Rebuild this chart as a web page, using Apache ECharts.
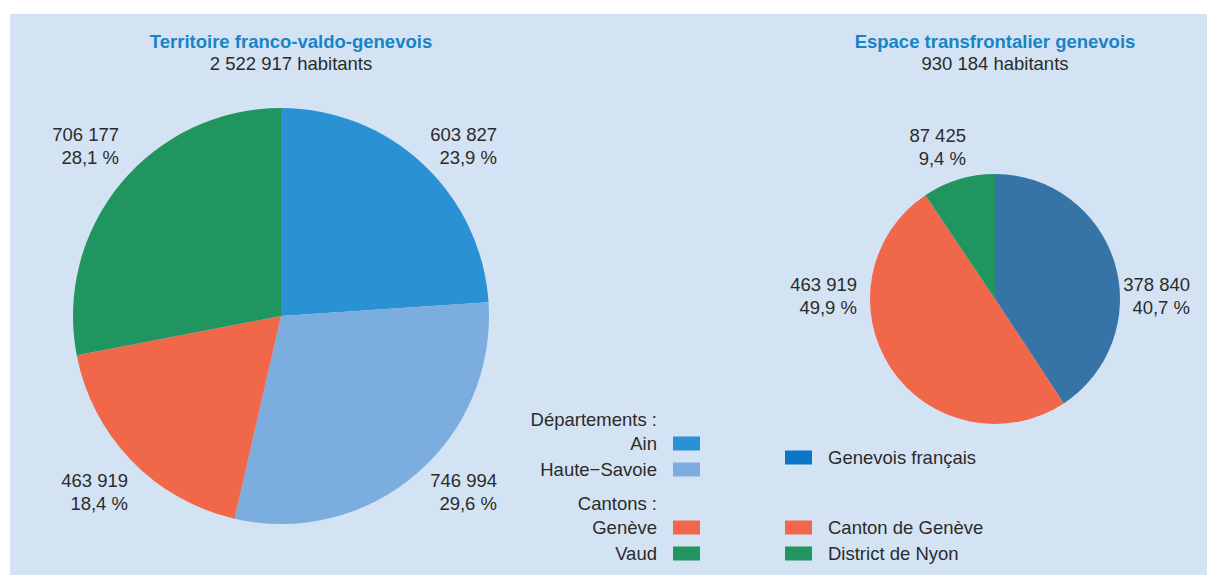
<!DOCTYPE html>
<html><head><meta charset="utf-8">
<script src="https://cdn.jsdelivr.net/npm/echarts@6/dist/echarts.min.js"></script>
<style>html,body{margin:0;padding:0;background:#fff}#c{width:1207px;height:575px}</style>
</head><body><div id="c"></div>
<script>
// ---- data ----
const leftTitle = 'Territoire franco-valdo-genevois';
const leftSubtitle = '2 522 917 habitants';
const rightTitle = 'Espace transfrontalier genevois';
const rightSubtitle = '930 184 habitants';
const leftNames = ['Ain', 'Haute−Savoie', 'Genève', 'Vaud'];
const leftValues = [603827, 746994, 463919, 706177];
const leftPercents = ['23,9', '29,6', '18,4', '28,1'];
const rightNames = ['Genevois français', 'Canton de Genève', 'District de Nyon'];
const rightValues = [378840, 463919, 87425];
const rightPercents = ['40,7', '49,9', '9,4'];
const legendHeaders = ['Départements :', 'Cantons :'];

// ---- layout / style ----
const FONT = '"Liberation Sans", Arial, Helvetica, sans-serif';
const FS = 18.5;
const TXT = '#2b2b2b';
const BLUE = '#1884c7';
const BG = '#d4e3f3';
const leftColors = ['#2a92d4', '#7badde', '#f0674a', '#20955f'];
const rightColors = ['#3674a8', '#f0674a', '#20955f'];
const gfLegendColor = '#0a78c6';
const leftLabelAnchors = [[497, 146], [497, 492], [128, 492], [119, 146]];
const rightLabelAnchors = [[1190, 296], [857, 296], [966, 147]];

const fmt = v => String(v).replace(/\B(?=(\d{3})+(?!\d))/g, ' ');

function pieSeries(names, values, percents, colors, center, radius, anchors) {
  return {
    type: 'pie',
    center: center,
    radius: radius,
    startAngle: 90,
    clockwise: true,
    avoidLabelOverlap: false,
    silent: true,
    emphasis: { disabled: true },
    data: names.map((n, i) => ({ name: n, value: values[i], itemStyle: { color: colors[i] } })),
    itemStyle: { borderWidth: 0 },
    label: {
      show: true,
      position: 'outside',
      formatter: p => fmt(p.value) + '\n' + percents[p.dataIndex] + ' %',
      fontSize: FS,
      fontFamily: FONT,
      color: TXT,
      lineHeight: 23
    },
    labelLine: { show: false },
    labelLayout: p => ({
      x: anchors[p.dataIndex][0],
      y: anchors[p.dataIndex][1],
      align: 'right',
      verticalAlign: 'middle'
    })
  };
}

const legendBase = {
  orient: 'vertical',
  itemWidth: 27,
  itemHeight: 14,
  itemGap: 7,
  padding: 0,
  icon: 'rect',
  selectedMode: false
};
function legendText(pad) {
  return { fontSize: FS, fontFamily: FONT, color: TXT, lineHeight: 14, padding: pad };
}

const chart = echarts.init(document.getElementById('c'), null, { renderer: 'svg' });
chart.setOption({
  animation: false,
  backgroundColor: '#ffffff',
  graphic: { elements: [
    { type: 'rect', silent: true, z: -100, shape: { x: 10, y: 14, width: 1197, height: 561 }, style: { fill: BG } },
    { type: 'text', silent: true, x: 291, y: 41, style: { text: leftTitle, fill: BLUE, fontSize: FS, fontWeight: 'bold', fontFamily: FONT, align: 'center', verticalAlign: 'middle' } },
    { type: 'text', silent: true, x: 291, y: 63.5, style: { text: leftSubtitle, fill: TXT, fontSize: FS, fontFamily: FONT, align: 'center', verticalAlign: 'middle' } },
    { type: 'text', silent: true, x: 995, y: 41, style: { text: rightTitle, fill: BLUE, fontSize: FS, fontWeight: 'bold', fontFamily: FONT, align: 'center', verticalAlign: 'middle' } },
    { type: 'text', silent: true, x: 995, y: 63.5, style: { text: rightSubtitle, fill: TXT, fontSize: FS, fontFamily: FONT, align: 'center', verticalAlign: 'middle' } },
    { type: 'text', silent: true, x: 657, y: 419, style: { text: legendHeaders[0], fill: TXT, fontSize: FS, fontFamily: FONT, align: 'right', verticalAlign: 'middle' } },
    { type: 'text', silent: true, x: 657, y: 503, style: { text: legendHeaders[1], fill: TXT, fontSize: FS, fontFamily: FONT, align: 'right', verticalAlign: 'middle' } }
  ] },
  legend: [
    Object.assign({}, legendBase, { data: leftNames.slice(0, 2), right: 507, top: 434, align: 'right', textStyle: legendText([0, 11, 0, 0]) }),
    Object.assign({}, legendBase, { data: leftNames.slice(2, 4), right: 507, top: 518, align: 'right', textStyle: legendText([0, 11, 0, 0]) }),
    Object.assign({}, legendBase, { data: [{ name: rightNames[0], itemStyle: { color: gfLegendColor } }], left: 785, top: 448, align: 'left', textStyle: legendText([0, 0, 0, 11]) }),
    Object.assign({}, legendBase, { data: rightNames.slice(1, 3), left: 785, top: 518, align: 'left', textStyle: legendText([0, 0, 0, 11]) })
  ],
  series: [
    pieSeries(leftNames, leftValues, leftPercents, leftColors, [281, 316], 208, leftLabelAnchors),
    pieSeries(rightNames, rightValues, rightPercents, rightColors, [995, 299], 125, rightLabelAnchors)
  ]
});
</script>
</body></html>
